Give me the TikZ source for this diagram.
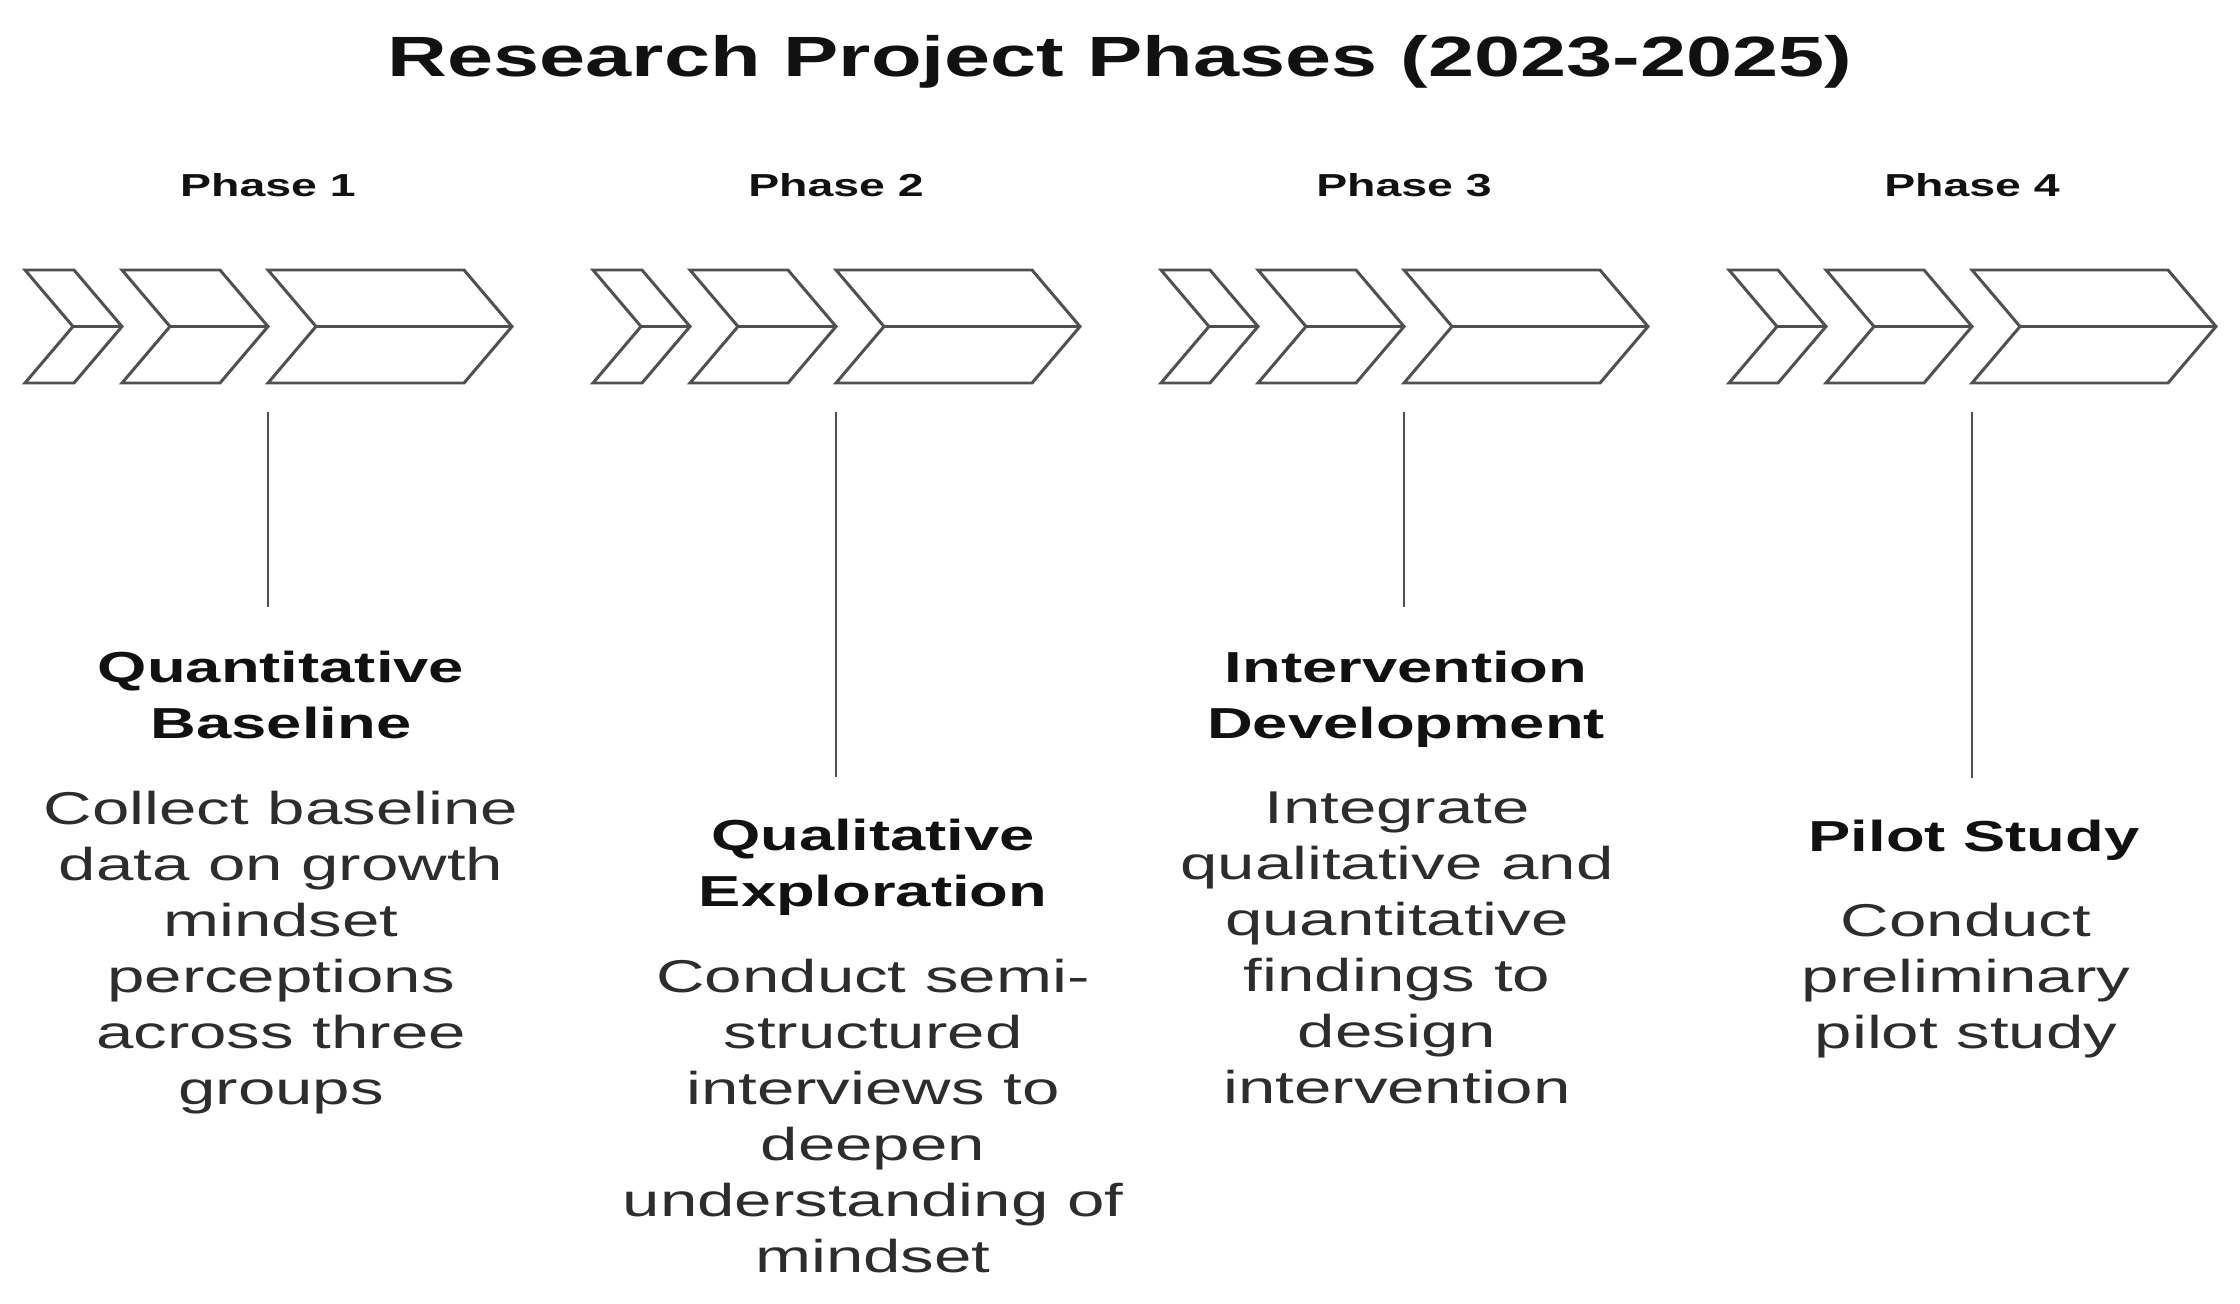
\documentclass[tikz,border=0pt]{standalone}
\usepackage{fontspec}
\setmainfont[FakeStretch=1.46]{Liberation Sans}
\definecolor{chevgray}{RGB}{80,80,80}
\definecolor{inkblack}{RGB}{17,17,17}
\definecolor{bodygray}{RGB}{45,45,45}

\begin{document}
\begin{tikzpicture}[x=0.02cm, y=-0.02cm,
    chev/.style={draw=chevgray, line width=1.7pt, line join=miter},
    stem/.style={draw=chevgray, line width=1.4pt},
    titletext/.style={anchor=base, inner sep=0pt, text=inkblack, font=\bfseries\fontsize{32.3}{38}\selectfont},
    phaselabel/.style={anchor=base, inner sep=0pt, text=inkblack, font=\bfseries\fontsize{18.1}{22}\selectfont},
    headtext/.style={anchor=north, inner sep=0pt, align=center, text=inkblack, font=\bfseries\fontsize{24.7}{31.7}\selectfont},
    bodytext/.style={anchor=north, inner sep=0pt, align=center, text=bodygray, font=\fontsize{26.2}{31.9}\selectfont}]

    \useasboundingbox (0,0) rectangle (2240,1304);

    % Title
    \node[titletext] (title) at (1120,77) {Research Project Phases (2023-2025)};

    % Phase labels
    \node[phaselabel] (p1) at (268,196) {Phase 1};
    \node[phaselabel] (p2) at (836,196) {Phase 2};
    \node[phaselabel] (p3) at (1404,196) {Phase 3};
    \node[phaselabel] (p4) at (1972,196) {Phase 4};

    % Chevrons, phase 1
    \draw[chev] (25,270) -- ++(49,0) -- ++(48,56.5) -- ++(-48,56.5) -- ++(-49,0) -- ++(48,-56.5) -- cycle ++(48,56.5) -- ++(49,0);
    \draw[chev] (122,270) -- ++(98,0) -- ++(48,56.5) -- ++(-48,56.5) -- ++(-98,0) -- ++(48,-56.5) -- cycle ++(48,56.5) -- ++(98,0);
    \draw[chev] (268,270) -- ++(196,0) -- ++(48,56.5) -- ++(-48,56.5) -- ++(-196,0) -- ++(48,-56.5) -- cycle ++(48,56.5) -- ++(196,0);

    % Chevrons, phase 2
    \draw[chev] (593,270) -- ++(49,0) -- ++(48,56.5) -- ++(-48,56.5) -- ++(-49,0) -- ++(48,-56.5) -- cycle ++(48,56.5) -- ++(49,0);
    \draw[chev] (690,270) -- ++(98,0) -- ++(48,56.5) -- ++(-48,56.5) -- ++(-98,0) -- ++(48,-56.5) -- cycle ++(48,56.5) -- ++(98,0);
    \draw[chev] (836,270) -- ++(196,0) -- ++(48,56.5) -- ++(-48,56.5) -- ++(-196,0) -- ++(48,-56.5) -- cycle ++(48,56.5) -- ++(196,0);

    % Chevrons, phase 3
    \draw[chev] (1161,270) -- ++(49,0) -- ++(48,56.5) -- ++(-48,56.5) -- ++(-49,0) -- ++(48,-56.5) -- cycle ++(48,56.5) -- ++(49,0);
    \draw[chev] (1258,270) -- ++(98,0) -- ++(48,56.5) -- ++(-48,56.5) -- ++(-98,0) -- ++(48,-56.5) -- cycle ++(48,56.5) -- ++(98,0);
    \draw[chev] (1404,270) -- ++(196,0) -- ++(48,56.5) -- ++(-48,56.5) -- ++(-196,0) -- ++(48,-56.5) -- cycle ++(48,56.5) -- ++(196,0);

    % Chevrons, phase 4
    \draw[chev] (1729,270) -- ++(49,0) -- ++(48,56.5) -- ++(-48,56.5) -- ++(-49,0) -- ++(48,-56.5) -- cycle ++(48,56.5) -- ++(49,0);
    \draw[chev] (1826,270) -- ++(98,0) -- ++(48,56.5) -- ++(-48,56.5) -- ++(-98,0) -- ++(48,-56.5) -- cycle ++(48,56.5) -- ++(98,0);
    \draw[chev] (1972,270) -- ++(196,0) -- ++(48,56.5) -- ++(-48,56.5) -- ++(-196,0) -- ++(48,-56.5) -- cycle ++(48,56.5) -- ++(196,0);

    % Start of the stems
    \coordinate (s1) at (268,412);
    \coordinate (s2) at (836,412);
    \coordinate (s3) at (1404,412);
    \coordinate (s4) at (1972,412);

    % Headings
    \node[headtext] (h1) at (281,651) {Quantitative\\Baseline};
    \node[headtext] (h2) at (873,819) {Qualitative\\Exploration};
    \node[headtext] (h3) at (1406,651) {Intervention\\Development};
    \node[headtext] (h4) at (1974,820) {Pilot Study};

    % Descriptions
    \node[bodytext] (b1) at (281,791) {Collect baseline\\data on growth\\mindset\\perceptions\\across three\\groups};
    \node[bodytext] (b2) at (873,959) {Conduct semi-\\structured\\interviews to\\deepen\\understanding of\\mindset};
    \node[bodytext] (b3) at (1397,791) {Integrate\\qualitative and\\quantitative\\findings to\\design\\intervention};
    \node[bodytext] (b4) at (1966,903) {Conduct\\preliminary\\pilot study};

    % Stems
    \draw[stem, shorten >=25pt] (s1) -- (s1 |- h1.north);
    \draw[stem, shorten >=24pt] (s2) -- (s2 |- h2.north);
    \draw[stem, shorten >=25pt] (s3) -- (s3 |- h3.north);
    \draw[stem, shorten >=24pt] (s4) -- (s4 |- h4.north);
\end{tikzpicture}
\end{document}
